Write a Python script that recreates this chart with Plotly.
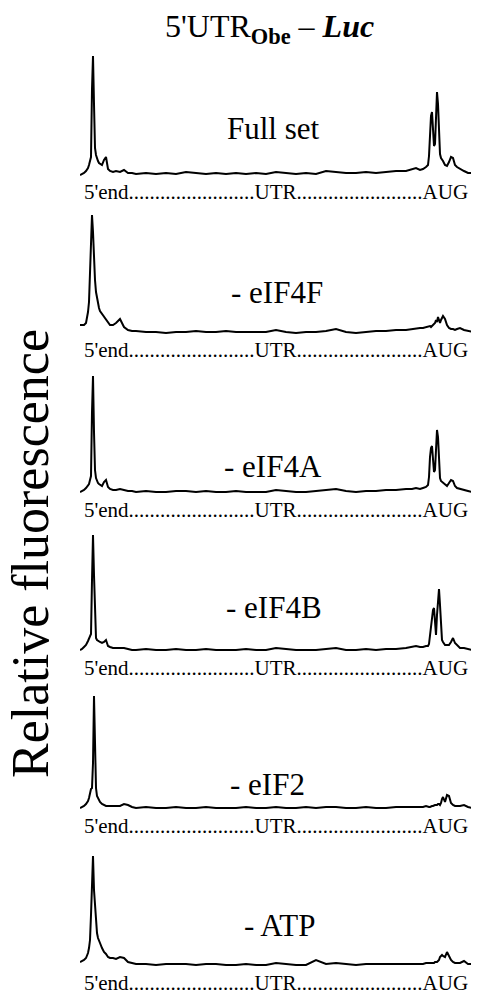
import plotly.graph_objects as go

# ---- data -------------------------------------------------------------
panel_names = ["Full set", "- eIF4F", "- eIF4A", "- eIF4B", "- eIF2", "- ATP"]

# position along the mRNA (5' end -> AUG), arbitrary units
position = [0, 2, 4, 6, 8, 9, 10, 11, 12, 13, 14, 15, 16, 17, 18, 19, 20, 22, 24, 26, 28, 30, 33, 36, 40, 44, 48, 52,
            56, 66, 76, 86, 96, 106, 116, 126, 136, 146, 156, 166, 176, 186, 196, 206, 216, 226, 236, 246, 256, 266,
            276, 286, 296, 306, 316, 326,
            332, 336, 340, 343, 346, 348, 349, 350, 351, 352, 353, 354, 355, 356, 357, 358, 359, 360, 361, 362, 363,
            365, 367, 369, 371, 373, 375, 377, 380, 384, 388, 392, 396, 399]

full_set = [-1, 0, 1, 3, 6, 9, 14, 17, 85, 118, 70, 26, 19, 15, 13, 11, 10, 9, 14, 17, 5, 3, 2, 3, 2, 4, 1, 1,
            0, 1, 0, 1, 0, 2, 1, 0, 1, 0, 1, 0, 1, 0, 2, 1, 0, 1, 0, 3, 2, 1,
            1, 2, 1, 2, 3, 3,
            5, 6, 4, 5, 7, 9, 18, 45, 58, 62, 45, 28, 30, 70, 82, 70, 40, 20, 16, 15, 13,
            9, 8, 12, 17, 16, 9, 7, 5, 3, 1, 1, 0, -1]

minus_eif4f = [7, 7, 7, 9, 20, 30, 55, 95, 117, 100, 70, 52, 40, 33, 28, 24, 21, 18, 15, 12, 9, 7, 7, 9, 13, 5, 2, 1,
               1, 0, 0, -1, 0, 0, 1, 0, 0, 1, 0, 0, 0, 0, 2, 0, -1, 0, 0, 1, 3, 0,
               -1, 0, 1, 1, 2, 2,
               3, 3, 4, 4, 5, 5, 6, 6, 5, 6, 6, 8, 9, 12, 10, 15, 11, 9, 12, 14, 16,
               13, 7, 4, 3, 3, 2, 3, 4, 2, 1, 0, -1, -1]

minus_eif4a = [0, 1, 2, 4, 6, 8, 12, 16, 80, 116, 60, 22, 14, 11, 9, 8, 7, 6, 10, 12, 5, 3, 2, 2, 3, 2, 1, 1,
               0, 1, 0, 0, 1, 1, 0, 1, 0, 0, 1, 0, 0, 0, 2, 1, 0, 0, 1, 2, 3, 1,
               0, 1, 1, 2, 2, 3,
               3, 4, 3, 4, 5, 7, 15, 35, 44, 46, 35, 20, 22, 50, 62, 55, 30, 14, 11, 10, 9,
               7, 6, 9, 12, 11, 6, 4, 3, 2, 1, 0, 0, 0]

minus_eif4b = [0, 1, 3, 5, 9, 12, 14, 16, 70, 115, 75, 25, 12, 10, 9, 8, 8, 7, 8, 10, 4, 3, 2, 2, 2, 2, 1, 0,
               0, 1, 0, 0, 1, 0, 0, 1, 0, 0, 0, 1, 0, 0, 2, 1, 0, 0, 0, 1, 2, 0,
               0, 1, 0, 1, 1, 2,
               3, 4, 3, 3, 4, 4, 6, 15, 22, 32, 40, 42, 30, 15, 35, 50, 61, 45, 25, 10, 8,
               5, 5, 5, 8, 12, 7, 5, 2, 2, 1, 0, 0, 0]

minus_eif2 = [0, 1, 2, 4, 7, 10, 16, 19, 20, 45, 112, 50, 20, 12, 10, 8, 6, 4, 3, 2, 2, 2, 2, 2, 2, 4, 3, 1,
              0, 1, 0, 0, 1, 0, 0, 1, 0, 0, 0, 1, 0, 0, 1, 0, 0, 1, 0, 1, 1, 0,
              0, 1, 0, 0, 1, 1,
              1, 1, 1, 1, 2, 1, 1, 1, 2, 2, 2, 3, 3, 3, 3, 4, 4, 3, 5, 9, 11,
              6, 13, 12, 5, 3, 2, 2, 2, 3, 1, 0, 0, 0]

minus_atp = [3, 4, 5, 7, 12, 17, 25, 50, 95, 109, 75, 58, 45, 32, 27, 25, 22, 17, 13, 11, 8, 7, 7, 6, 8, 7, 3, 2,
             1, 1, 0, 1, 1, 1, 0, 1, 1, 0, 0, 1, 0, 0, 2, 1, 0, 0, 5, 1, 2, 1,
             0, 1, 1, 1, 1, 1,
             1, 1, 1, 1, 2, 2, 2, 2, 2, 2, 2, 2, 3, 3, 3, 4, 5, 8, 9, 10, 9,
             8, 13, 8, 5, 3, 2, 2, 2, 4, 1, 1, 1, 1]

series = [full_set, minus_eif4f, minus_eif4a, minus_eif4b, minus_eif2, minus_atp]

axis_label = "5'end" + "." * 24 + "UTR" + "." * 24 + "AUG"

# ---- layout helpers ---------------------------------------------------
# The page body has an 8px margin, so the figure occupies screen pixels 8..479 x 8..1002
OFF = 8
W, H = 479 - OFF, 1002 - OFF
FONT = "Liberation Serif, Times New Roman, serif"
baselines_px = [174, 332, 492, 650, 808, 965]
name_pos_px = [(273, 128), (277, 293), (273, 466), (274, 607), (267, 784), (280, 925)]
VMIN, VMAX = -8, 122


def px_x(p):
    return (p - OFF) / W


def px_y(p):
    return 1 - (p - OFF) / H


fig = go.Figure()
layout = dict(
    width=W, height=H,
    margin=dict(l=0, r=0, t=0, b=0),
    paper_bgcolor="white", plot_bgcolor="white",
    showlegend=False,
)
annotations = []

for k, vals in enumerate(series):
    n = k + 1
    xa = "x" if n == 1 else f"x{n}"
    ya = "y" if n == 1 else f"y{n}"
    fig.add_trace(go.Scatter(x=position, y=vals, mode="lines",
                             line=dict(color="black", width=2),
                             xaxis=xa, yaxis=ya, hoverinfo="skip"))
    b = baselines_px[k]
    layout[f"xaxis{n}"] = dict(domain=[px_x(80), 1.0], range=[0, 399], visible=False,
                               anchor=ya, fixedrange=True)
    layout[f"yaxis{n}"] = dict(domain=[px_y(b - VMIN), px_y(b - VMAX)], range=[VMIN, VMAX],
                               visible=False, anchor=xa, fixedrange=True)
    annotations.append(dict(text=axis_label, x=px_x(275.5), y=px_y(b + 18), xref="paper", yref="paper",
                            showarrow=False, xanchor="center", yanchor="middle",
                            font=dict(family=FONT, size=21, color="black")))
    nx, ny = name_pos_px[k]
    annotations.append(dict(text=panel_names[k], x=px_x(nx), y=px_y(ny), xref="paper", yref="paper",
                            showarrow=False, xanchor="center", yanchor="middle",
                            font=dict(family=FONT, size=31, color="black")))

annotations.append(dict(text="5'UTR<sub><b>Obe</b></sub> \u2013 <b><i>Luc</i></b>",
                        x=px_x(269), y=px_y(28), xref="paper", yref="paper", showarrow=False,
                        xanchor="center", yanchor="middle",
                        font=dict(family=FONT, size=32, color="black")))
annotations.append(dict(text="Relative fluorescence", textangle=-90,
                        x=px_x(30), y=px_y(554), xref="paper", yref="paper", showarrow=False,
                        xanchor="center", yanchor="middle",
                        font=dict(family=FONT, size=52, color="black")))

layout["annotations"] = annotations
fig.update_layout(**layout)
fig.write_html("out.html", config={"displayModeBar": False})
